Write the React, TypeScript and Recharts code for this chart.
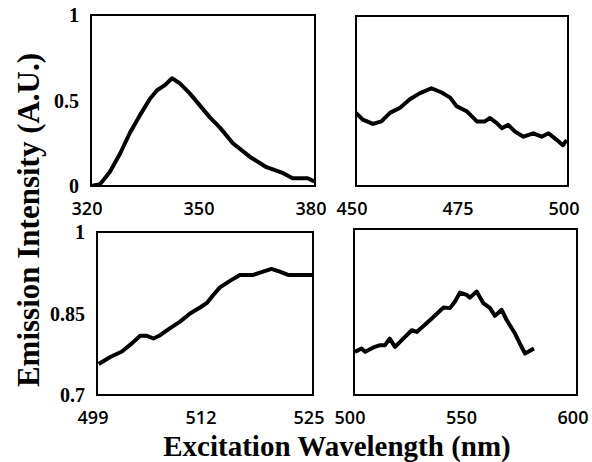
import React from "react";
import { LineChart, Line, XAxis, YAxis, ReferenceArea } from "recharts";

// Panel A: 320-380 nm
const aWavelength = [320, 322.4, 325, 327.8, 330.4, 333, 335.8, 337.7, 339.8, 341.7, 343.8, 346.5, 349.2, 351.9, 354.6, 358, 362.6, 367, 371.5, 374, 378, 380];
const aIntensity = [0, 0.01, 0.08, 0.19, 0.31, 0.41, 0.51, 0.56, 0.59, 0.63, 0.6, 0.54, 0.47, 0.4, 0.34, 0.25, 0.17, 0.11, 0.075, 0.045, 0.045, 0.025];

// Panel B: 450-500 nm
const bWavelength = [450, 451.6, 454, 456, 458, 460.4, 462.7, 465, 467.8, 470.2, 472.2, 473.7, 476.1, 478.5, 480.4, 481.6, 483.2, 484.4, 485.9, 487.5, 489.5, 491.8, 493.8, 495.4, 497.4, 498.8, 499.7];
const bIntensity = [0.43, 0.39, 0.365, 0.38, 0.43, 0.46, 0.51, 0.545, 0.575, 0.55, 0.52, 0.47, 0.44, 0.38, 0.38, 0.4, 0.37, 0.34, 0.36, 0.32, 0.29, 0.31, 0.29, 0.31, 0.27, 0.24, 0.27];

// Panel C: 499-525 nm
const cWavelength = [499.2, 500.6, 502, 503.2, 504.2, 505, 505.8, 506.6, 507.8, 509, 510.2, 511.4, 512.2, 513, 513.8, 515, 516.2, 517.8, 519, 520, 521, 522, 525];
const cIntensity = [0.757, 0.77, 0.78, 0.795, 0.809, 0.809, 0.804, 0.81, 0.823, 0.835, 0.85, 0.861, 0.869, 0.884, 0.898, 0.91, 0.921, 0.921, 0.927, 0.932, 0.927, 0.921, 0.921];

// Panel D: 500-600 nm
const dWavelength = [500.4, 503.4, 505, 508.7, 511.7, 513.9, 516, 518.4, 522.1, 525.9, 528.1, 531.8, 535.6, 540.1, 543, 545.3, 547.5, 550.5, 552, 555, 558, 561, 563.2, 566.2, 568.4, 572.2, 574.4, 576.7, 578.9, 580.7];
const dIntensity = [0.778, 0.784, 0.778, 0.786, 0.79, 0.79, 0.802, 0.787, 0.802, 0.817, 0.814, 0.827, 0.841, 0.858, 0.857, 0.869, 0.885, 0.881, 0.876, 0.887, 0.866, 0.857, 0.843, 0.854, 0.836, 0.811, 0.793, 0.775, 0.78, 0.784];

const W = 592;
const H = 462;
const YAXIS_W = 40;
const XAXIS_H = 40;

const serif = "'Liberation Serif', 'Times New Roman', serif";
const sans = "'Open Sans', 'DejaVu Sans', sans-serif";

interface PanelProps {
  xs: number[];
  ys: number[];
  box: { left: number; top: number; right: number; bottom: number };
  xDomain: [number, number];
  xTicks: number[];
  yDomain: [number, number];
  yTicks?: number[];
}

const Panel: React.FC<PanelProps> = ({ xs, ys, box, xDomain, xTicks, yDomain, yTicks }) => {
  const data = xs.map((x, i) => ({ x, y: ys[i] }));
  return (
    <div style={{ position: "absolute", left: 0, top: 0 }}>
      <LineChart
        width={W}
        height={H}
        data={data}
        margin={{
          left: box.left - YAXIS_W,
          top: box.top,
          right: W - box.right,
          bottom: H - box.bottom - XAXIS_H,
        }}
      >
        <XAxis
          dataKey="x"
          type="number"
          domain={xDomain}
          ticks={xTicks}
          allowDataOverflow
          height={XAXIS_H}
          axisLine={false}
          tickLine={false}
          tickSize={0}
          tickMargin={16}
          tick={{ fill: "#000", fontSize: 18, fontWeight: 600, fontFamily: sans, dx: -4 }}
        />
        <YAxis
          type="number"
          domain={yDomain}
          ticks={yTicks ?? [yDomain[0], yDomain[1]]}
          allowDataOverflow
          width={YAXIS_W}
          axisLine={false}
          tickLine={false}
          tickSize={0}
          tickMargin={12}
          tick={yTicks ? { fill: "#000", fontSize: 20, fontFamily: serif, fontWeight: "bold" } : false}
        />
        {/* frame around the plot area */}
        <ReferenceArea
          x1={xDomain[0]}
          x2={xDomain[1]}
          y1={yDomain[0]}
          y2={yDomain[1]}
          fill="none"
          stroke="#000"
          strokeWidth={2}
          ifOverflow="visible"
        />
        <Line
          dataKey="y"
          type="linear"
          stroke="#000"
          strokeWidth={4}
          strokeLinejoin="round"
          dot={false}
          isAnimationActive={false}
        />
      </LineChart>
    </div>
  );
};

export default function App() {
  return (
    <div style={{ position: "absolute", left: 0, top: 0, width: W, height: H, background: "#fff", overflow: "hidden" }}>
      <Panel
        xs={aWavelength}
        ys={aIntensity}
        box={{ left: 91, top: 15, right: 315, bottom: 186 }}
        xDomain={[320, 380]}
        xTicks={[320, 350, 380]}
        yDomain={[0, 1]}
        yTicks={[0, 0.5, 1]}
      />
      <Panel
        xs={bWavelength}
        ys={bIntensity}
        box={{ left: 356, top: 16, right: 568, bottom: 186 }}
        xDomain={[450, 500]}
        xTicks={[450, 475, 500]}
        yDomain={[0, 1]}
      />
      <Panel
        xs={cWavelength}
        ys={cIntensity}
        box={{ left: 97, top: 232, right: 313, bottom: 395 }}
        xDomain={[499, 525]}
        xTicks={[499, 512, 525]}
        yDomain={[0.7, 1]}
        yTicks={[0.7, 0.85, 1]}
      />
      <Panel
        xs={dWavelength}
        ys={dIntensity}
        box={{ left: 354, top: 229, right: 577, bottom: 395 }}
        xDomain={[500, 600]}
        xTicks={[500, 550, 600]}
        yDomain={[0.7, 1]}
      />
      <div
        style={{
          position: "absolute",
          left: 28,
          top: 220,
          transform: "translate(-50%, -50%) rotate(-90deg)",
          whiteSpace: "nowrap",
          fontFamily: serif,
          fontWeight: "bold",
          fontSize: 31,
          lineHeight: 1,
        }}
      >
        Emission Intensity (A.U.)
      </div>
      <div
        style={{
          position: "absolute",
          left: 337,
          top: 446,
          transform: "translate(-50%, -50%)",
          whiteSpace: "nowrap",
          fontFamily: serif,
          fontWeight: "bold",
          fontSize: 29,
          lineHeight: 1,
        }}
      >
        Excitation Wavelength (nm)
      </div>
    </div>
  );
}
